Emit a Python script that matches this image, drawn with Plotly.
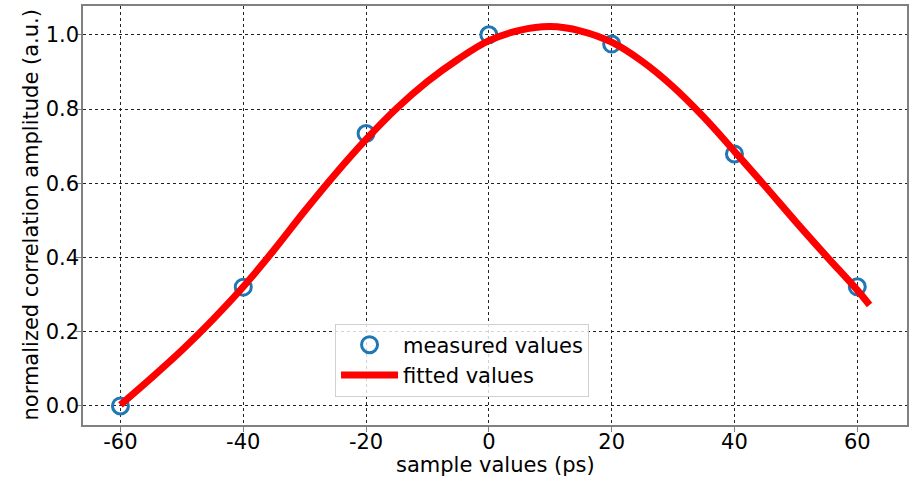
import plotly.graph_objects as go

# measured data
meas_x = [-60, -40, -20, 0, 20, 40, 60]
meas_y = [0.0, 0.32, 0.734, 1.0, 0.975, 0.679, 0.321]

# fitted curve
fit_x = [-60, -55, -50, -45, -40, -35, -30, -25, -20, -15, -10, -5, 0, 5, 10, 15,
         20, 25, 30, 35, 40, 45, 50, 55, 60, 62]
fit_y = [0.003, 0.075, 0.150, 0.232, 0.321, 0.420, 0.525, 0.625, 0.718, 0.802,
         0.874, 0.934, 0.984, 1.012, 1.022, 1.010, 0.980, 0.928, 0.860, 0.778,
         0.686, 0.592, 0.496, 0.403, 0.312, 0.272]

x_ticks = [-60, -40, -20, 0, 20, 40, 60]
x_tick_text = ["-60", "-40", "-20", "0", "20", "40", "60"]
y_ticks = [0.0, 0.2, 0.4, 0.6, 0.8, 1.0]
y_tick_text = ["0.0", "0.2", "0.4", "0.6", "0.8", "1.0"]

FONT = "DejaVu Sans"

fig = go.Figure()
fig.add_trace(go.Scatter(
    x=meas_x, y=meas_y, mode="markers", name="measured values",
    marker=dict(symbol="circle-open", size=16, color="#1f77b4",
                line=dict(width=3, color="#1f77b4")),
))
fig.add_trace(go.Scatter(
    x=fit_x, y=fit_y, mode="lines", name="fitted values",
    line=dict(color="red", width=7, shape="spline", smoothing=1.0),
))

axis_common = dict(
    showline=True, linecolor="#808080", linewidth=1.5, mirror=True,
    showgrid=True, gridcolor="#222222", gridwidth=1, griddash="dot",
    ticks="outside", ticklen=5, tickwidth=1.2, tickcolor="#808080",
    tickfont=dict(family=FONT, size=21, color="black"),
    zeroline=False, automargin=False,
)

fig.update_layout(
    width=912, height=477,
    margin=dict(l=83, r=5, t=6, b=52),
    paper_bgcolor="white", plot_bgcolor="white",
    font=dict(family=FONT, size=21, color="black"),
    showlegend=True,
    legend=dict(
        x=0.46, y=0.155, xanchor="center", yanchor="middle",
        bgcolor="rgba(255,255,255,0.8)", bordercolor="#d0d0d0", borderwidth=1,
        font=dict(family=FONT, size=21, color="black"),
        itemwidth=57,
    ),
    annotations=[
        dict(text="sample values (ps)", xref="paper", yref="paper",
             x=0.5, y=-0.0955, xanchor="center", yanchor="middle",
             showarrow=False, font=dict(family=FONT, size=21, color="black")),
        dict(text="normalized correlation amplitude (a.u.)", xref="paper", yref="paper",
             x=-0.0643, y=0.5, xanchor="center", yanchor="middle", textangle=-90,
             showarrow=False, font=dict(family=FONT, size=21, color="black")),
    ],
)
fig.update_xaxes(
    range=[-66.1, 68.1], tickvals=x_ticks, ticktext=x_tick_text,
    ticklabelstandoff=-8,
    **axis_common,
)
fig.update_yaxes(
    range=[-0.0514, 1.0775], tickvals=y_ticks, ticktext=y_tick_text,
    ticklabelstandoff=-7,
    **axis_common,
)

fig.write_html("out.html",
               config={"displayModeBar": False},
               post_script="document.body.style.margin='0';document.body.style.padding='0';")
